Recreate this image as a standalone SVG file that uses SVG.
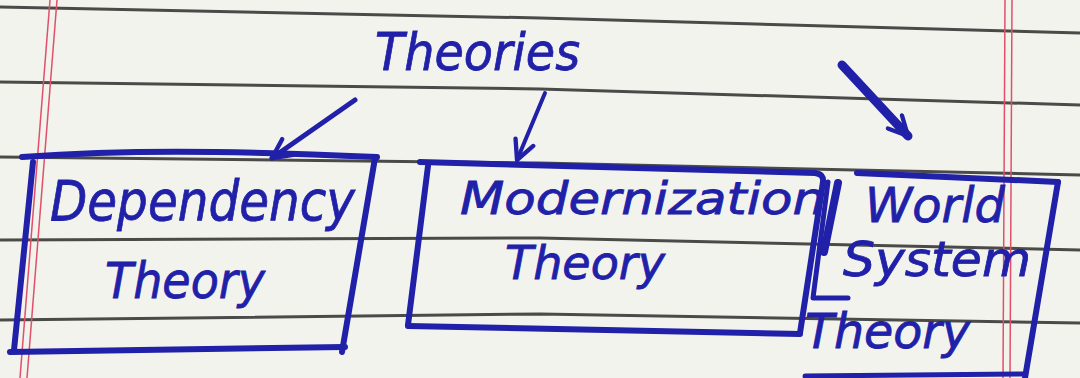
<svg xmlns="http://www.w3.org/2000/svg" width="1080" height="378" viewBox="0 0 1080 378">
<style>
.rule{stroke:#4a4a48;stroke-width:3;fill:none}
.margin{stroke:#e0506a;stroke-width:1.5;fill:none}
.ink{stroke:#2020a8;fill:none;stroke-linecap:round;stroke-linejoin:round}
.box{stroke-width:6}
.hand{font-family:"DejaVu Sans","Liberation Sans",sans-serif;font-style:italic;fill:#2020a8;stroke:#2020a8;stroke-width:0.8}
</style>
<defs>
<marker id="ah" viewBox="0 0 10 10" refX="9" refY="5" markerWidth="24" markerHeight="24" orient="auto" markerUnits="userSpaceOnUse">
<path d="M1,1 L9,5 L1,9" fill="none" stroke="#2020a8" stroke-width="1.8" stroke-linecap="round" stroke-linejoin="round"/>
</marker>
</defs>
<rect width="1080" height="378" fill="#f3f3ee"/>
<g id="paper">
<path class="rule" d="M0,7 L540,18 L1080,33"/>
<path class="rule" d="M0,82 L540,89 L1080,105"/>
<path class="rule" d="M0,157 L540,163 L1080,175"/>
<path class="rule" d="M0,240 L540,238 L1080,250"/>
<path class="rule" d="M0,320 L540,314 L1080,323"/>
<path class="margin" d="M50,0 L20,378"/>
<path class="margin" d="M57,0 L27,378"/>
<path class="margin" d="M1005,0 L1003,378"/>
<path class="margin" d="M1012,0 L1010,378"/>
</g>
<g id="theories">
<text class="hand" x="375" y="70" font-size="52" textLength="205" lengthAdjust="spacingAndGlyphs">Theories</text>
</g>
<g id="dependency">
<path class="ink box" d="M22,157 C120,150 220,150 377,157"/>
<path class="ink box" d="M375,158 L342,352"/>
<path class="ink box" d="M33,162 L14,350"/>
<path class="ink box" d="M10,352 L345,347"/>
<text class="hand" x="50" y="220" font-size="56" textLength="305" lengthAdjust="spacingAndGlyphs">Dependency</text>
<text class="hand" x="105" y="298" font-size="50" textLength="160" lengthAdjust="spacingAndGlyphs">Theory</text>
</g>
<g id="modernization">
<path class="ink box" d="M420,162 L815,173 Q824,174 823,182 L800,333"/>
<path class="ink box" d="M428,166 L408,325"/>
<path class="ink box" d="M408,326 L800,334"/>
<text class="hand" x="460" y="214" font-size="44" textLength="365" lengthAdjust="spacingAndGlyphs">Modernization</text>
<text class="hand" x="505" y="279" font-size="46" textLength="160" lengthAdjust="spacingAndGlyphs">Theory</text>
</g>
<g id="world-system">
<path class="ink" stroke-width="8" d="M838,183 L824,252"/>
<path class="ink" stroke-width="5" d="M828,182 L813,298 L848,298"/>
<path class="ink box" d="M857,173 L1058,182"/>
<path class="ink box" d="M1058,182 L1025,378"/>
<path class="ink" stroke-width="5" d="M805,376 L1025,374"/>
<text class="hand" x="865" y="222" font-size="48" textLength="140" lengthAdjust="spacingAndGlyphs">World</text>
<text class="hand" x="843" y="276" font-size="48" textLength="188" lengthAdjust="spacingAndGlyphs">System</text>
<text class="hand" x="805" y="348" font-size="48" textLength="165" lengthAdjust="spacingAndGlyphs">Theory</text>
</g>
<g id="connectors">
<path class="ink" stroke-width="5" d="M355,100 L272,158" marker-end="url(#ah)"/>
<path class="ink" stroke-width="4" d="M545,93 L517,160" marker-end="url(#ah)"/>
<path class="ink" stroke-width="9" d="M842,65 L908,136" marker-end="url(#ah)"/>
</g>
</svg>
